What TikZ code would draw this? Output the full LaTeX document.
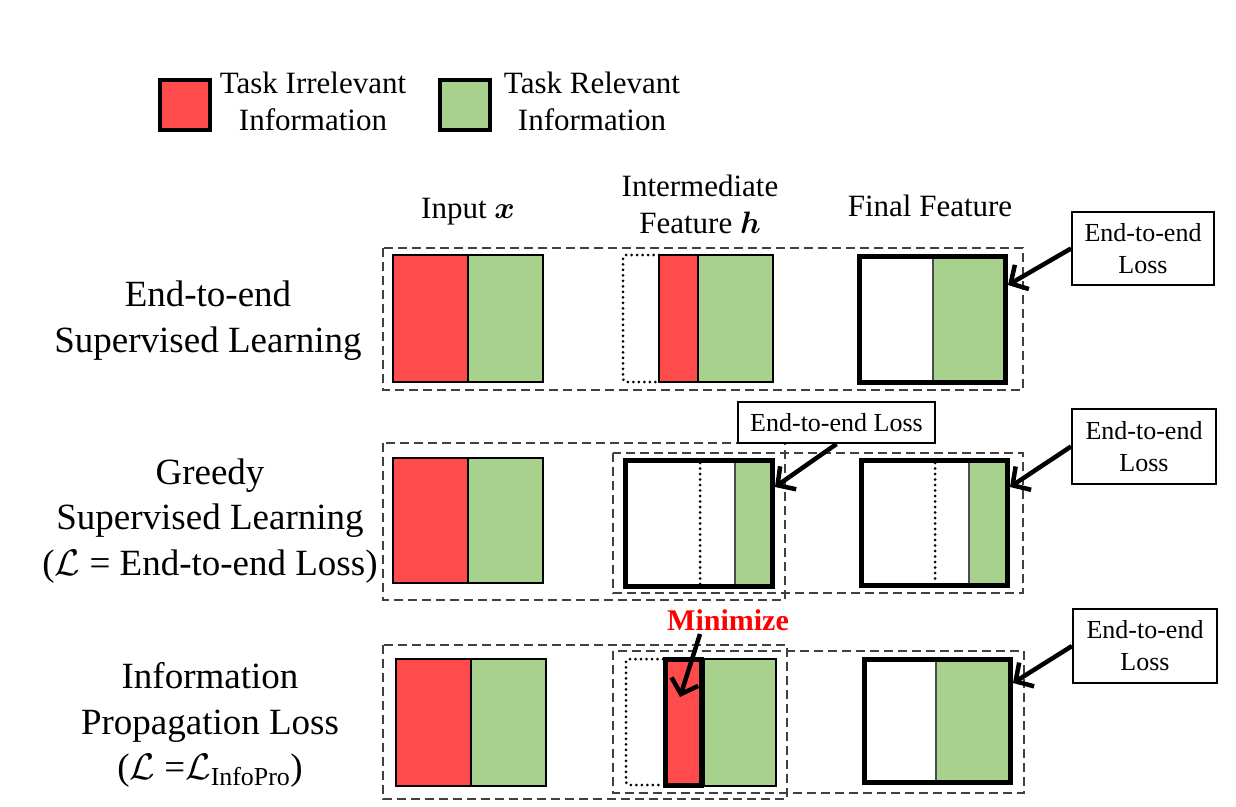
\RequirePackage{fix-cm}
\documentclass[tikz,border=0pt]{standalone}
\usepackage{amsmath,bm}
\usepackage{fontspec}
\setmainfont{Liberation Serif}
\usetikzlibrary{arrows.meta}
\definecolor{irr}{HTML}{FF4B4B}
\definecolor{rel}{HTML}{A9D18E}
\tikzset{
 lbl/.style={font=\fontsize{37}{45.5}\selectfont, align=center, inner sep=0},
 hdr/.style={font=\fontsize{31}{37}\selectfont, align=center, inner sep=0},
 lossbox/.style={draw, line width=2, font=\fontsize{26}{32}\selectfont, align=center, inner sep=0},
 grp/.style={draw=black!75, line width=1.3, dash pattern=on 9pt off 5pt},
 thinb/.style={draw, line width=2},
 thickb/.style={draw, line width=5},
 divl/.style={draw=black!70, line width=1.5},
 dots/.style={draw, line width=3, dash pattern=on 0pt off 5.5pt, line cap=round},
 ptr/.style={draw, line width=4.5, -{Straight Barb[length=13pt,width=28pt]}},
}
\begin{document}
\begin{tikzpicture}[x=1pt,y=-1pt]
\useasboundingbox (0,0) rectangle (1236,806);

% ---------- legend ----------
\filldraw[fill=irr, draw=black, line width=4] (160,80) rectangle (210,130);
\filldraw[fill=rel, draw=black, line width=4] (440,80) rectangle (490,130);
\node[hdr] (legirr) at (313,101.5) {Task Irrelevant\\Information};
\node[hdr] (legrel) at (592,101.5) {Task Relevant\\Information};

% ---------- headers ----------
\node[hdr] (hin) at (468,212) {Input $\boldsymbol{x}$};
\node[hdr] (hmid) at (700,204.5) {Intermediate\\Feature $\boldsymbol{h}$};
\node[hdr] (hfin) at (930,206) {Final Feature};

% ---------- row labels ----------
\node[lbl] (r1) at (208,320.5) {End-to-end\\Supervised Learning};
\node[lbl] (r2) at (210,521) {Greedy\\Supervised Learning\\(\(\mathcal{L}\) = End-to-end Loss)};
\node[lbl] (r3) at (210,725) {Information\\Propagation Loss\\(\(\mathcal{L}\) =\(\mathcal{L}_{\text{InfoPro}}\))};

% ================= Row 1 =================
\draw[grp] (383,248) rectangle (1023,390);
% input
\fill[irr] (393,255) rectangle (468,382);
\fill[rel] (468,255) rectangle (543,382);
\draw[thinb] (393,255) rectangle (543,382);
\draw[thinb] (468,255) -- (468,382);
% intermediate
\draw[dots, rounded corners=3] (659,255) -- (623,255) -- (623,382) -- (659,382);
\fill[irr] (659,255) rectangle (698,382);
\fill[rel] (698,255) rectangle (773,382);
\draw[thinb] (659,255) rectangle (773,382);
\draw[thinb] (698,255) -- (698,382);
% final
\fill[rel] (933,256.5) rectangle (1005.5,382.5);
\draw[divl] (933,256.5) -- (933,382.5);
\draw[thickb] (859.5,256.5) rectangle (1005.5,382.5);
% loss
\node[lossbox, minimum width=142, minimum height=73] (loss1) at (1143,248.5) {End-to-end\\Loss};
\coordinate (t1) at (1008,285);
\draw[ptr] (loss1.west) -- (t1);

% ================= Row 2 =================
\draw[grp] (383,443) rectangle (785,600);
\draw[grp] (613,453) rectangle (1023,593);
% input
\fill[irr] (393,458) rectangle (468,583);
\fill[rel] (468,458) rectangle (543,583);
\draw[thinb] (393,458) rectangle (543,583);
\draw[thinb] (468,458) -- (468,583);
% intermediate
\fill[rel] (735,460.5) rectangle (772.5,586.5);
\draw[divl] (735,460.5) -- (735,586.5);
\draw[dots] (700,463) -- (700,584);
\draw[thickb] (625.5,460.5) rectangle (772.5,586.5);
% final
\fill[rel] (969,460.5) rectangle (1007.5,585.5);
\draw[divl] (969,460.5) -- (969,585.5);
\draw[dots] (935,463) -- (935,583);
\draw[thickb] (861.5,460.5) rectangle (1007.5,585.5);
% losses
\node[lossbox, minimum width=197, minimum height=41] (loss2m) at (836.5,422.5) {End-to-end Loss};
\coordinate (t2m) at (775,487);
\draw[ptr] (loss2m.south) -- (t2m);
\node[lossbox, minimum width=144, minimum height=75] (loss2) at (1144,446.5) {End-to-end\\Loss};
\coordinate (t2) at (1010,487);
\draw[ptr] (loss2.west) -- (t2);

% ================= Row 3 =================
\draw[grp] (383,645) rectangle (787,799);
\draw[grp] (613,651) rectangle (1024,793);
% input
\fill[irr] (396,659) rectangle (471,786);
\fill[rel] (471,659) rectangle (546,786);
\draw[thinb] (396,659) rectangle (546,786);
\draw[thinb] (471,659) -- (471,786);
% intermediate
\draw[dots, rounded corners=3] (663,659) -- (626,659) -- (626,785) -- (663,785);
\fill[rel] (704,659) rectangle (776,786);
\draw[thinb] (704,659) rectangle (776,786);
\filldraw[fill=irr, draw=black, line width=5] (665.5,659.5) rectangle (701.5,785.5);
% final
\fill[rel] (936,659.5) rectangle (1010.5,782.5);
\draw[divl] (936,659.5) -- (936,782.5);
\draw[thickb] (864.5,659.5) rectangle (1010.5,782.5);
% minimize
\node[font=\fontsize{30}{36}\selectfont\bfseries, text=red, inner sep=0] (mini) at (728,620) {Minimize};
\coordinate (m0) at (700,634);
\coordinate (m1) at (680,697);
\draw[ptr] (m0) -- (m1);
% loss
\node[lossbox, minimum width=144, minimum height=74] (loss3) at (1145,646) {End-to-end\\Loss};
\coordinate (t3) at (1013,683);
\draw[ptr] (loss3.west) -- (t3);
\end{tikzpicture}
\end{document}
